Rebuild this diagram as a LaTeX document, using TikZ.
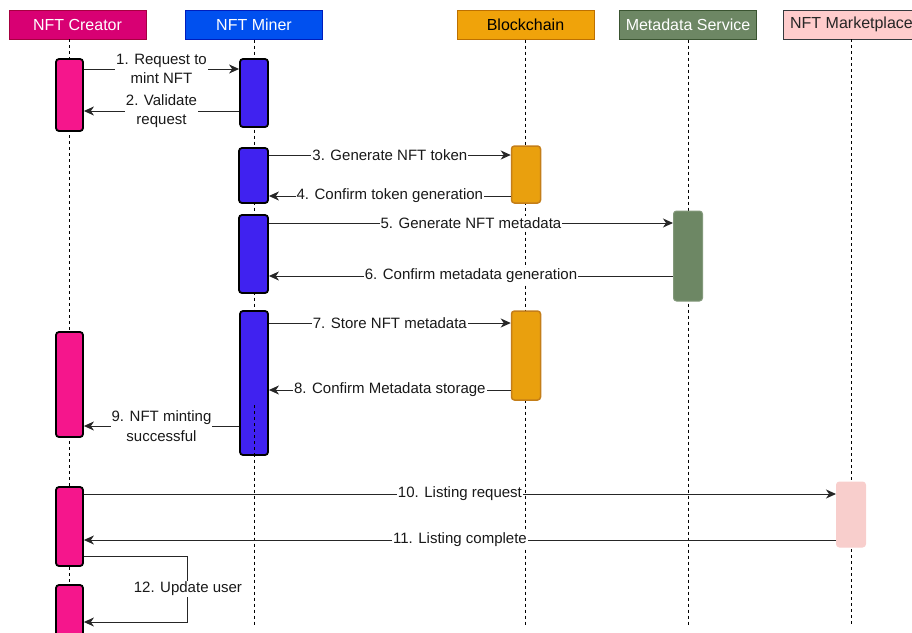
\documentclass[tikz,border=0pt]{standalone}
\usepackage{fontspec}
\setmainfont{Liberation Sans}
\usetikzlibrary{arrows.meta,positioning}
\definecolor{crfill}{HTML}{D80073}
\definecolor{crline}{HTML}{A50040}
\definecolor{crbar}{RGB}{245,22,140}
\definecolor{mnfill}{HTML}{0050EF}
\definecolor{mnline}{HTML}{001DBC}
\definecolor{mnbar}{RGB}{64,34,240}
\definecolor{bcfill}{HTML}{F0A30A}
\definecolor{bcline}{HTML}{BD7000}
\definecolor{bcbar}{RGB}{233,160,14}
\definecolor{mdfill}{HTML}{6D8764}
\definecolor{mdline}{HTML}{3A5431}
\definecolor{mkfill}{HTML}{FFCCCC}
\definecolor{mkline}{HTML}{36393D}
\definecolor{mkbar}{HTML}{F8CECC}

\begin{document}
\begin{tikzpicture}[x=1pt,y=-1pt,
  head/.style={draw,line width=1pt,minimum width=137pt,minimum height=29pt,inner sep=0pt,
               font=\fontsize{16}{18}\selectfont},
  bar/.style={draw=black,line width=1.8pt,rounded corners=3pt,inner sep=0pt,minimum width=27pt},
  life/.style={black,line width=0.9pt,dash pattern=on 3pt off 3pt},
  msg/.style={black!85,line width=1pt,-{Stealth[length=10pt,width=9pt,inset=3pt]}},
  lbl/.style={fill=white,inner sep=1pt,align=center,text=black!90,
              font=\fontsize{15}{19.5}\selectfont}]

\useasboundingbox (0,0) rectangle (912,632);

% participants
\node[head,fill=crfill,draw=crline,text=white] (creator) at (77.5,24.5) {NFT Creator};
\node[head,fill=mnfill,draw=mnline,text=white] (miner) at (254,24.5) {NFT Miner};
\node[head,fill=bcfill,draw=bcline,text=black] (chain) at (525.5,24.5) {Blockchain};
\node[head,fill=mdfill,draw=mdline,text=white] (meta) at (688,24.5) {Metadata Service};
\node[head,fill=mkfill,draw=mkline,text=black!85] (market) at (851.5,24.5) {NFT Marketplace};

% lifelines
\draw[life] (69,39) -- (69,625);
\draw[life] (miner.south) -- (miner.south |- 0,625);
\draw[life] (chain.south) -- (chain.south |- 0,625);
\draw[life] (meta.south) -- (meta.south |- 0,625);
\draw[life] (851,39) -- (851,625);

% activation bars
\node[bar,fill=crbar,minimum height=72pt] (cb1) at (69.5,95) {};
\node[bar,fill=crbar,minimum height=105pt] (cb2) at (69.5,384.5) {};
\node[bar,fill=crbar,minimum height=79pt] (cb3) at (69.5,526.5) {};
\node[bar,fill=crbar,minimum height=55pt] (cb4) at (69.5,612.5) {};

\node[bar,fill=mnbar,minimum width=28pt,minimum height=68pt] (mb1) at (254,93) {};
\node[bar,fill=mnbar,minimum width=29pt,minimum height=55pt] (mb2) at (253.5,175.5) {};
\node[bar,fill=mnbar,minimum width=29pt,minimum height=78pt] (mb3) at (253.5,254) {};
\node[bar,fill=mnbar,minimum width=28pt,minimum height=144pt] (mb4) at (254,383) {};
\draw[life] (254,405) -- (mb4.south);

\node[bar,fill=bcbar,draw=bcline!90,line width=1.5pt,minimum width=29pt,minimum height=57pt] (bb1) at (526,174.5) {};
\node[bar,fill=bcbar,draw=bcline!90,line width=1.5pt,minimum width=29pt,minimum height=89pt] (bb2) at (526,355.5) {};

\node[bar,fill=mdfill,draw=mdfill!85,line width=1pt,minimum width=29pt,minimum height=90pt] (db1) at (688,256) {};

\node[bar,fill=mkbar,draw=mkbar,line width=1pt,minimum width=29pt,minimum height=65pt] (kb1) at (851,514.5) {};

% messages
\draw[msg] (cb1.east |- 0,69) -- node[lbl] {1. Request to\\mint NFT} (mb1.west |- 0,69);
\draw[msg] (mb1.west |- 0,111) -- node[lbl] {2. Validate\\request} (cb1.east |- 0,111);
\draw[msg] (mb2.east |- 0,155) -- node[lbl] {3. Generate NFT token} (bb1.west |- 0,155);
\draw[msg] (bb1.west |- 0,196) -- node[lbl] {4. Confirm token generation} (mb2.east |- 0,196);
\draw[msg] (mb3.east |- 0,223) -- node[lbl] {5. Generate NFT metadata} (db1.west |- 0,223);
\draw[msg] (db1.west |- 0,276) -- node[lbl] {6. Confirm metadata generation} (mb3.east |- 0,276);
\draw[msg] (mb4.east |- 0,323) -- node[lbl] {7. Store NFT metadata} (bb2.west |- 0,323);
\draw[msg] (bb2.west |- 0,390) -- node[lbl] {8. Confirm Metadata storage} (mb4.east |- 0,390);
\draw[msg] (mb4.west |- 0,426) -- node[lbl] {9. NFT minting\\successful} (cb2.east |- 0,426);
\draw[msg] (cb3.east |- 0,494) -- node[lbl] {10. Listing request} (kb1.west |- 0,494);
\draw[msg] (kb1.west |- 0,540) -- node[lbl] {11. Listing complete} (cb3.east |- 0,540);
\draw[msg] (cb3.east |- 0,556) -- ++(104,0) -- node[lbl] {12. Update user} ++(0,66)
  -- (cb4.east |- 0,622);
\end{tikzpicture}
\end{document}
